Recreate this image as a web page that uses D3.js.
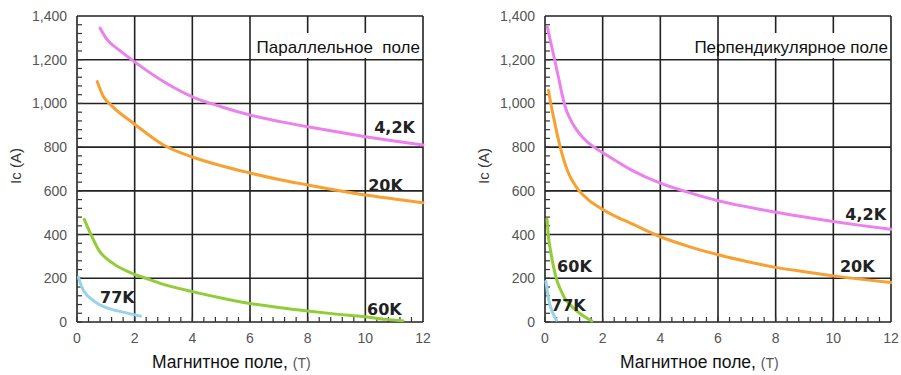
<!DOCTYPE html>
<meta charset="utf-8">
<head>
  <style>
    body { margin: 0; background: #fff; font-family: "Liberation Sans", Arial, sans-serif; }
    .tick-label { fill: #555; font-size: 14px; }
    .curve-label { font-family: "DejaVu Sans", Verdana, sans-serif; font-weight: bold; font-size: 16px; fill: #222; }
  </style>
  <script src="https://cdn.jsdelivr.net/npm/d3@7"></script>
</head>
<body>
<div id="chart"></div>
<script>
  // *** Data (field in T, Ic in A)
  var xTicks = [0, 2, 4, 6, 8, 10, 12];
  var yTicks = [0, 200, 400, 600, 800, 1000, 1200, 1400];

  var par42K = [[0.8,1345],[1,1300],[1.5,1240],[2,1190],[3,1100],[4,1030],[5,985],[6,947],[7,918],[8,893],[9,870],[10,848],[11,828],[12,810]];
  var par20K = [[0.7,1100],[0.9,1035],[1.2,990],[2,905],[3,810],[4,755],[5,715],[6,682],[7,652],[8,627],[9,603],[10,581],[11,563],[12,546]];
  var par60K = [[0.25,470],[0.45,410],[0.75,330],[1.25,268],[2,218],[2.5,195],[3,172],[4,139],[5,110],[6,85],[7,66],[8,50],[9,36],[10,24],[10.7,12],[11.3,6]];
  var par77K = [[0.05,205],[0.15,165],[0.3,130],[0.5,105],[0.8,78],[1.2,58],[1.6,45],[2.2,27]];

  var perp42K = [[0.08,1350],[0.25,1250],[0.45,1130],[0.65,1010],[0.75,965],[0.85,935],[1.05,888],[1.3,845],[1.7,800],[2,775],[3,695],[4,635],[5,592],[6,555],[7,527],[8,502],[9,480],[10,460],[11,441],[12,424]];
  var perp20K = [[0.12,1060],[0.2,1000],[0.3,935],[0.5,815],[0.8,685],[1.1,615],[1.5,560],[2,515],[2.5,480],[3,450],[4,390],[5,345],[6,308],[7,277],[8,250],[9,230],[10,211],[11,195],[12,181]];
  var perp60K = [[0.07,470],[0.12,390],[0.2,320],[0.3,250],[0.4,195],[0.55,145],[0.7,105],[0.9,75],[1.2,40],[1.62,5]];
  var perp77K = [[0.03,185],[0.08,140],[0.13,100],[0.2,65],[0.3,32],[0.4,8]];

  var colors = { k42: "#ec80ec", k20: "#f7a132", k60: "#92cc36", k77: "#96d4ea" };

  var svg = d3.select("#chart").append("svg")
    .attr("width", 901)
    .attr("height", 375);

  function panel(opts) {
    var x = d3.scaleLinear().domain([0, 12]).range([opts.left, opts.right]);
    var y = d3.scaleLinear().domain([0, 1400]).range([322, 16]);
    var g = svg.append("g");

    // *** grid
    g.selectAll(".vgrid").data(xTicks).enter().append("line")
      .attr("x1", function(d) { return x(d); }).attr("x2", function(d) { return x(d); })
      .attr("y1", y(0)).attr("y2", y(1400))
      .attr("stroke", "#222").attr("stroke-width", 1.6);
    g.selectAll(".hgrid").data(yTicks).enter().append("line")
      .attr("x1", x(0)).attr("x2", x(12))
      .attr("y1", function(d) { return y(d); }).attr("y2", function(d) { return y(d); })
      .attr("stroke", "#222").attr("stroke-width", 1.6);

    // minor ticks, drawn inward
    g.selectAll(".ym").data(d3.range(0, 1400, 40)).enter().append("line")
      .attr("x1", x(0)).attr("x2", x(0) + 5)
      .attr("y1", function(d) { return y(d); }).attr("y2", function(d) { return y(d); })
      .attr("stroke", "#333").attr("stroke-width", 1.2);
    g.selectAll(".xm").data(d3.range(0, 12, 0.4)).enter().append("line")
      .attr("x1", function(d) { return x(d); }).attr("x2", function(d) { return x(d); })
      .attr("y1", y(0)).attr("y2", y(0) - 5)
      .attr("stroke", "#333").attr("stroke-width", 1.2);

    // title with white box that hides part of the grid
    g.append("rect")
      .attr("x", opts.boxX0).attr("y", 33)
      .attr("width", x(12) - 2 - opts.boxX0).attr("height", 25)
      .attr("fill", "#fff");
    g.append("text")
      .attr("x", x(12) - 3).attr("y", 53)
      .attr("text-anchor", "end")
      .style("font-size", "17px").style("white-space", "pre")
      .attr("fill", "#111")
      .text(opts.title);

    // *** curves
    var line = d3.line()
      .x(function(d) { return x(d[0]); })
      .y(function(d) { return y(d[1]); })
      .curve(d3.curveMonotoneX);
    opts.series.forEach(function(s) {
      g.append("path")
        .datum(s.data)
        .attr("d", line)
        .attr("fill", "none")
        .attr("stroke", s.color)
        .attr("stroke-width", 3)
        .attr("stroke-linecap", "round");
    });

    opts.labels.forEach(function(l) {
      g.append("text")
        .attr("class", "curve-label")
        .attr("x", x(l[1])).attr("y", y(l[2]))
        .attr("text-anchor", l[3])
        .text(l[0]);
    });

    // *** tick labels
    g.selectAll(".yl").data(yTicks).enter().append("text")
      .attr("class", "tick-label")
      .attr("x", x(0) - 10).attr("y", function(d) { return y(d) + 5; })
      .attr("text-anchor", "end")
      .text(d3.format(","));
    g.selectAll(".xl").data(xTicks).enter().append("text")
      .attr("class", "tick-label")
      .attr("x", function(d) { return x(d); }).attr("y", 343)
      .attr("text-anchor", "middle")
      .text(function(d) { return d; });

    // axis titles
    g.append("text")
      .attr("transform", "translate(" + (opts.left - 56) + ",166) rotate(-90)")
      .attr("text-anchor", "middle")
      .style("font-size", "15px")
      .attr("fill", "#333")
      .text("Ic (A)");
    var xt = g.append("text")
      .attr("x", opts.left + 75).attr("y", 368)
      .style("font-size", "17.5px")
      .attr("fill", "#111");
    xt.append("tspan").text("Магнитное поле, ");
    xt.append("tspan").style("font-size", "14px").attr("fill", "#555").text("(T)");
  }

  panel({
    left: 77, right: 423, boxX0: 254,
    title: "Параллельное  поле",
    series: [
      { data: par77K, color: colors.k77 },
      { data: par60K, color: colors.k60 },
      { data: par20K, color: colors.k20 },
      { data: par42K, color: colors.k42 }
    ],
    labels: [["4,2K", 11.72, 865, "end"], ["20K", 10.1, 600, "start"], ["60K", 10.06, 32, "start"], ["77K", 0.8, 87, "start"]]
  });

  panel({
    left: 545, right: 891, boxX0: 721,
    title: "Перпендикулярное поле",
    series: [
      { data: perp77K, color: colors.k77 },
      { data: perp60K, color: colors.k60 },
      { data: perp20K, color: colors.k20 },
      { data: perp42K, color: colors.k42 }
    ],
    labels: [["4,2K", 11.83, 467, "end"], ["20K", 10.23, 229, "start"], ["60K", 0.42, 229, "start"], ["77K", 0.21, 50, "start"]]
  });
</script>
</body>
